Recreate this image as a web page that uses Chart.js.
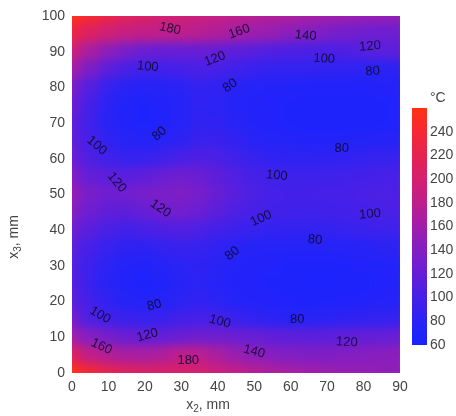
<!DOCTYPE html>
<html>
<head>
<meta charset="utf-8">
<script src="https://cdn.jsdelivr.net/npm/chart.js@4.4.0/dist/chart.umd.min.js"></script>
<style>
  html, body { margin: 0; padding: 0; background: #fff; }
  #wrap { position: relative; width: 456px; height: 416px; overflow: hidden; }
  /* the heat map canvas is blurred a little so the 5 mm cells read as smooth bands */
  #heatClip { position: absolute; left: 72px; top: 16px; width: 328px; height: 357px; overflow: hidden; }
  #heat { position: absolute; left: -72px; top: -16px; filter: blur(5px); }
  #main { position: absolute; left: 0; top: 0; }
  #bar { position: absolute; left: 405px; top: 90px; }
</style>
</head>
<body>
<div id="wrap">
  <div id="heatClip"><canvas id="heat" width="456" height="416"></canvas></div>
  <canvas id="main" width="456" height="416"></canvas>
  <canvas id="bar" width="51" height="270"></canvas>
</div>
<script>
// grid positions (mm)
const x2 = [0, 5, 10, 15, 20, 25, 30, 35, 40, 45, 50, 55, 60, 65, 70, 75, 80, 85, 90];
const x3 = [100, 95, 90, 85, 80, 75, 70, 65, 60, 55, 50, 45, 40, 35, 30, 25, 20, 15, 10, 5, 0];

// temperature, deg C, one row per x3 value (top to bottom)
const temp = [
    [255, 240, 225, 212, 204, 198, 194, 190, 185, 180, 175, 171, 167, 163, 159, 156, 153, 151, 149],
    [228, 208, 195, 187, 183, 181, 180, 176, 170, 164, 158, 152, 146, 140, 135, 130, 127, 126, 126],
    [192, 166, 148, 134, 125, 122, 122, 122, 120, 116, 112, 108, 105, 103, 103, 106, 110, 113, 116],
    [162, 136, 116, 102, 97, 97, 100, 103, 101, 96, 91, 88, 87, 87, 86, 85, 83, 82, 84],
    [134, 110, 90, 80, 77, 78, 82, 87, 85, 80, 76, 73, 72, 71, 71, 71, 71, 72, 74],
    [124, 100, 82, 72, 68, 70, 76, 84, 82, 76, 72, 70, 68, 67, 67, 67, 67, 68, 70],
    [116, 96, 80, 71, 68, 70, 77, 86, 85, 78, 73, 70, 68, 66, 66, 66, 67, 68, 70],
    [116, 100, 86, 78, 75, 78, 84, 92, 92, 86, 80, 76, 74, 72, 72, 72, 74, 76, 78],
    [124, 106, 96, 90, 90, 95, 102, 106, 103, 96, 90, 86, 84, 84, 85, 86, 88, 90, 92],
    [138, 120, 114, 113, 117, 123, 127, 124, 116, 107, 100, 96, 94, 94, 95, 96, 98, 100, 102],
    [150, 134, 127, 128, 132, 136, 137, 132, 122, 112, 104, 100, 98, 98, 99, 100, 102, 104, 106],
    [142, 126, 117, 116, 121, 127, 129, 124, 114, 106, 100, 97, 96, 96, 97, 98, 100, 102, 104],
    [126, 112, 102, 98, 101, 106, 108, 104, 98, 93, 90, 88, 87, 87, 88, 90, 92, 94, 96],
    [114, 100, 90, 84, 84, 88, 91, 89, 85, 80, 77, 75, 74, 74, 75, 77, 79, 81, 83],
    [108, 94, 82, 74, 72, 76, 82, 84, 80, 75, 72, 70, 68, 67, 67, 68, 70, 72, 74],
    [108, 92, 80, 70, 67, 70, 78, 82, 78, 73, 70, 68, 66, 65, 65, 66, 67, 69, 72],
    [114, 98, 86, 76, 73, 76, 82, 86, 82, 76, 73, 71, 69, 68, 68, 69, 71, 73, 76],
    [130, 105, 97, 92, 90, 92, 97, 100, 98, 92, 86, 82, 80, 80, 82, 84, 86, 88, 90],
    [160, 142, 132, 124, 120, 120, 124, 128, 128, 125, 122, 118, 115, 114, 115, 117, 119, 121, 123],
    [208, 182, 172, 166, 165, 170, 180, 178, 167, 155, 147, 142, 139, 138, 138, 140, 142, 144, 146],
    [255, 235, 218, 208, 204, 202, 202, 198, 190, 182, 174, 168, 163, 159, 155, 153, 151, 149, 148]
];

// contour labels: position in mm, value, text angle in degrees
const labelX = [26.9, 45.9, 64.1, 81.8, 20.8, 39.2, 43.4, 69.2, 82.5, 6.8, 24.0, 74.0, 12.3, 56.2,
                24.3, 51.9, 81.8, 66.7, 44.0, 7.7, 22.6, 40.6, 61.8, 8.1, 20.7, 31.9, 50.0, 75.4];
const labelY = [96.4, 95.6, 94.5, 91.5, 85.8, 88.0, 80.5, 88.0, 84.5, 63.7, 67.0, 63.0, 53.4, 55.3,
                46.1, 43.3, 44.5, 37.3, 33.5, 16.2, 19.0, 14.4, 15.1, 7.4, 10.6, 3.6, 6.0, 8.6];
const labelText = ['180', '160', '140', '120', '100', '120', '80', '100', '80', '100', '80', '80', '120', '100',
                   '120', '100', '100', '80', '80', '100', '80', '100', '80', '160', '120', '180', '140', '120'];
const labelAngle = [12, -20, 5, -5, 5, -20, -35, 3, -5, 40, -40, 0, 50, 5,
                    35, -25, -5, 5, -40, 30, -15, 15, 0, 25, -15, 0, 15, 3];

// colour bar
const cbMin = 60;
const cbMax = 260;
const cbTicks = [60, 80, 100, 120, 140, 160, 180, 200, 220, 240];

const colormap = [
    [60, [25, 35, 255]], [80, [40, 35, 245]], [100, [70, 32, 232]], [120, [100, 30, 215]],
    [140, [130, 30, 195]], [160, [160, 30, 170]], [180, [190, 30, 140]], [200, [212, 32, 110]],
    [220, [230, 35, 80]], [240, [245, 40, 50]], [260, [255, 50, 20]]
];

function colorAt(v) {
    if (v <= colormap[0][0]) return 'rgb(' + colormap[0][1].join(',') + ')';
    for (let i = 1; i < colormap.length; i++) {
        const [v1, c1] = colormap[i];
        const [v0, c0] = colormap[i - 1];
        if (v <= v1) {
            const t = (v - v0) / (v1 - v0);
            const c = c0.map((a, k) => Math.round(a + (c1[k] - a) * t));
            return 'rgb(' + c.join(',') + ')';
        }
    }
    return 'rgb(' + colormap[colormap.length - 1][1].join(',') + ')';
}

const cells = [];
x3.forEach((yv, i) => {
    x2.forEach((xv, j) => {
        cells.push({ x: xv, y: yv, v: temp[i][j] });
    });
});

const FONT = 'Liberation Sans, Arial, Helvetica, sans-serif';
const tickColor = '#454545';

// both canvases share this layout so their plot areas line up
function axisOptions(color) {
    return {
        responsive: false,
        animation: false,
        events: [],
        layout: { padding: { left: 0, top: 16, right: 56, bottom: 0 } },
        plugins: { legend: { display: false }, tooltip: { enabled: false } },
        scales: {
            x: {
                min: 0, max: 90,
                grid: { display: false, drawTicks: false },
                border: { display: false },
                ticks: { stepSize: 10, padding: 6, color: color, font: { family: FONT, size: 14 } },
                afterFit: (s) => { s.height = 43; }
            },
            y: {
                min: 0, max: 100,
                grid: { display: false, drawTicks: false },
                border: { display: false },
                ticks: { stepSize: 10, padding: 7, color: color, font: { family: FONT, size: 14 } },
                afterFit: (s) => { s.width = 72; }
            }
        }
    };
}

// contour value labels
const contourLabels = {
    id: 'contourLabels',
    afterDatasetsDraw(chart) {
        const { ctx, chartArea, scales } = chart;
        ctx.save();
        ctx.beginPath();
        ctx.rect(chartArea.left, chartArea.top, chartArea.width, chartArea.height);
        ctx.clip();
        ctx.font = '13px ' + FONT;
        ctx.fillStyle = 'rgba(15, 10, 45, 0.9)';
        ctx.textAlign = 'center';
        ctx.textBaseline = 'middle';
        labelText.forEach((t, i) => {
            ctx.save();
            ctx.translate(scales.x.getPixelForValue(labelX[i]), scales.y.getPixelForValue(labelY[i]));
            ctx.rotate(labelAngle[i] * Math.PI / 180);
            ctx.fillText(t, 0, 0);
            ctx.restore();
        });
        ctx.restore();
    }
};

// axis titles with subscripts
function drawSubTitle(ctx, base, sub, rest, x, y) {
    ctx.font = '14px ' + FONT;
    const w1 = ctx.measureText(base).width;
    const w3 = ctx.measureText(rest).width;
    ctx.font = '10px ' + FONT;
    const w2 = ctx.measureText(sub).width;
    let cx = x - (w1 + w2 + w3) / 2;
    ctx.textAlign = 'left';
    ctx.textBaseline = 'middle';
    ctx.font = '14px ' + FONT;
    ctx.fillText(base, cx, y);
    cx += w1;
    ctx.font = '10px ' + FONT;
    ctx.fillText(sub, cx, y + 4);
    cx += w2;
    ctx.font = '14px ' + FONT;
    ctx.fillText(rest, cx, y);
}

const axisTitles = {
    id: 'axisTitles',
    afterDraw(chart) {
        const ctx = chart.ctx;
        ctx.save();
        ctx.fillStyle = tickColor;
        drawSubTitle(ctx, 'x', '2', ', mm', 208, 405);
        ctx.translate(14, 237);
        ctx.rotate(-Math.PI / 2);
        drawSubTitle(ctx, 'x', '3', ', mm', 0, 0);
        ctx.restore();
    }
};

// heat map cells
new Chart(document.getElementById('heat'), {
    type: 'scatter',
    data: {
        datasets: [{
            data: cells,
            pointStyle: 'rect',
            borderWidth: 0,
            clip: false,
            pointRadius: (c) => {
                const s = c.chart.scales.x;
                return (Math.abs(s.getPixelForValue(5) - s.getPixelForValue(0)) + 1.4) / Math.SQRT2;
            },
            backgroundColor: (c) => colorAt(c.raw ? c.raw.v : 60)
        }]
    },
    options: axisOptions('transparent')
});

// axes, titles and contour labels on top
new Chart(document.getElementById('main'), {
    type: 'scatter',
    data: { datasets: [{ data: [] }] },
    options: axisOptions(tickColor),
    plugins: [contourLabels, axisTitles]
});

// colour bar: gradient drawn through its own linear scale
const gradientBar = {
    id: 'gradientBar',
    beforeDatasetsDraw(chart) {
        const { ctx, chartArea, scales } = chart;
        const y = scales.y;
        const g = ctx.createLinearGradient(0, y.getPixelForValue(cbMin), 0, y.getPixelForValue(cbMax));
        colormap.forEach(([v]) => g.addColorStop((v - cbMin) / (cbMax - cbMin), colorAt(v)));
        ctx.save();
        ctx.fillStyle = g;
        ctx.fillRect(chartArea.left, chartArea.top, chartArea.width, chartArea.height);
        ctx.font = '14px ' + FONT;
        ctx.fillStyle = tickColor;
        ctx.textAlign = 'left';
        ctx.textBaseline = 'middle';
        ctx.fillText('°C', chartArea.right + 3, 8);
        ctx.restore();
    }
};

new Chart(document.getElementById('bar'), {
    type: 'scatter',
    data: { datasets: [{ data: [] }] },
    options: {
        responsive: false,
        animation: false,
        events: [],
        layout: { padding: { left: 7, top: 18, right: 0, bottom: 15 } },
        plugins: { legend: { display: false }, tooltip: { enabled: false } },
        scales: {
            x: { display: false, min: 0, max: 1 },
            y: {
                position: 'right',
                min: cbMin, max: cbMax,
                grid: { display: false, drawTicks: false },
                border: { display: false },
                ticks: { padding: 3, color: tickColor, font: { family: FONT, size: 14 } },
                afterBuildTicks: (s) => { s.ticks = cbTicks.map(v => ({ value: v })); },
                afterFit: (s) => { s.width = 29; }
            }
        }
    },
    plugins: [gradientBar]
});
</script>
</body>
</html>
